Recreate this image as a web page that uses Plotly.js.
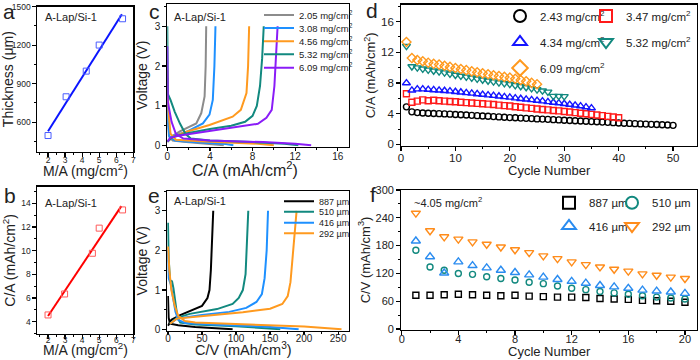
<!DOCTYPE html>
<html>
<head>
<meta charset="utf-8">
<script src="https://cdn.plot.ly/plotly-3.0.1.min.js"></script>
<style>html,body{margin:0;padding:0;background:#fff;}#chart{width:700px;height:360px;}</style>
</head>
<body>
<div id="chart"></div>
<script>
// ---------- Panel a : thickness vs areal mass ----------
const aMass = [2.0, 3.06, 4.24, 5.0, 6.37];
const aThick = [496, 798, 998, 1201, 1406];
const aFitX = [2.0, 6.33];
const aFitY = [530, 1441];

// ---------- Panel b : areal capacity vs areal mass ----------
const bMass = [2.0, 2.97, 4.6, 5.0, 6.37];
const bCap = [4.57, 6.34, 9.78, 11.9, 13.44];
const bFitX = [2.0, 6.3];
const bFitY = [4.48, 13.76];

// ---------- Panel c : voltage profiles, areal capacity ----------
const cLabels = ['2.05 mg/cm<sup>2</sup>', '3.08 mg/cm<sup>2</sup>', '4.56 mg/cm<sup>2</sup>', '5.32 mg/cm<sup>2</sup>', '6.09 mg/cm<sup>2</sup>'];
const c1DchX = [0, 0.05, 0.15, 0.5, 1.5, 3, 4.5, 5.3];
const c1DchY = [1.3, 0.6, 0.25, 0.13, 0.1, 0.07, 0.04, 0.01];
const c1ChX = [0, 0.4, 1.18, 2.72, 3.19, 3.5, 3.6, 3.65];
const c1ChY = [0.1, 0.23, 0.36, 0.56, 0.82, 1.24, 2.0, 3.0];
const c2DchX = [0, 0.05, 0.2, 0.7, 2, 4, 5.5, 6.2];
const c2DchY = [1.7, 0.6, 0.22, 0.13, 0.1, 0.07, 0.04, 0.01];
const c2ChX = [0, 0.5, 1.8, 3.34, 3.96, 4.27, 4.42, 4.52];
const c2ChY = [0.1, 0.24, 0.35, 0.56, 0.78, 1.15, 2.0, 3.0];
const c3DchX = [0, 0.1, 0.3, 0.8, 3, 6, 8.5, 10];
const c3DchY = [1.9, 0.9, 0.3, 0.15, 0.11, 0.08, 0.05, 0.01];
const c3ChX = [0, 0.56, 1.8, 3.96, 6.13, 6.9, 7.43, 7.58, 7.68];
const c3ChY = [0.1, 0.23, 0.35, 0.52, 0.73, 0.9, 1.32, 2.0, 3.0];
const c4DchX = [0, 0.05, 0.3, 0.7, 1.2, 1.7, 2.2, 4, 8, 11, 12.3];
const c4DchY = [3.0, 1.3, 1.15, 0.85, 0.55, 0.3, 0.18, 0.13, 0.09, 0.05, 0.01];
const c4ChX = [0, 0.5, 2, 4, 6, 7.3, 8.0, 8.4, 8.7, 8.9, 9.05];
const c4ChY = [0.1, 0.22, 0.32, 0.42, 0.5, 0.6, 0.75, 1.0, 1.5, 2.2, 3.0];
const c5DchX = [0, 0.05, 0.4, 0.8, 1.5, 4, 9, 12, 13.5];
const c5DchY = [2.5, 1.1, 0.6, 0.3, 0.18, 0.13, 0.09, 0.05, 0.01];
const c5ChX = [0, 0.3, 1, 3, 5, 7, 8.5, 9.3, 9.8, 10.05, 10.2, 10.35];
const c5ChY = [0.1, 0.2, 0.25, 0.33, 0.4, 0.48, 0.55, 0.7, 0.9, 1.5, 2.2, 3.0];

// ---------- Panel e : voltage profiles, volumetric capacity ----------
const eLabels = ['887 µm', '510 µm', '416 µm', '292 µm'];
const e1DchX = [0, 1, 3, 15, 40, 70, 95];
const e1DchY = [0.85, 0.3, 0.15, 0.11, 0.07, 0.04, 0.01];
const e1ChX = [0, 5, 18, 37, 50, 58, 61, 63, 64.5, 66.5];
const e1ChY = [0.1, 0.25, 0.37, 0.5, 0.6, 0.8, 1.0, 1.5, 2.2, 3.0];
const e2DchX = [0, 1, 3, 6, 8, 11, 14, 18, 40, 100, 140, 165];
const e2DchY = [2.7, 1.8, 1.25, 1.22, 1.05, 0.6, 0.3, 0.18, 0.13, 0.09, 0.05, 0.01];
const e2ChX = [3, 13, 32, 72, 95, 104, 110, 114, 116, 118];
const e2ChY = [0.15, 0.3, 0.4, 0.52, 0.65, 0.8, 1.0, 1.4, 2.2, 3.0];
const e3DchX = [0, 1, 4, 7, 11, 15, 25, 80, 150, 192];
const e3DchY = [2.0, 1.3, 1.15, 0.8, 0.45, 0.25, 0.17, 0.12, 0.07, 0.01];
const e3ChX = [3, 13, 50, 90, 115, 130, 138, 142, 145, 147];
const e3ChY = [0.15, 0.28, 0.37, 0.45, 0.55, 0.7, 0.9, 1.3, 2.0, 3.0];
const e4DchX = [0, 2, 5, 10, 15, 25, 40, 120, 200, 255];
const e4DchY = [2.1, 1.5, 1.0, 0.6, 0.35, 0.22, 0.18, 0.13, 0.08, 0.01];
const e4ChX = [3, 13, 60, 110, 150, 168, 176, 180, 184, 189];
const e4ChY = [0.15, 0.28, 0.36, 0.44, 0.53, 0.65, 0.85, 1.2, 2.0, 3.0];

// ---------- Panel d : areal capacity vs cycle ----------
const dLabels = ['2.43 mg/cm<sup>2</sup>', '3.47 mg/cm<sup>2</sup>', '4.34 mg/cm<sup>2</sup>', '5.32 mg/cm<sup>2</sup>', '6.09 mg/cm<sup>2</sup>'];
const d243 = [4.9, 4.25, 4.15, 4.1, 4.07, 4.04, 4.01, 3.98, 3.95, 3.91, 3.87, 3.83, 3.79, 3.75, 3.71, 3.67, 3.63, 3.59, 3.55, 3.5,
              3.47, 3.43, 3.4, 3.37, 3.33, 3.3, 3.27, 3.23, 3.2, 3.15, 3.12, 3.09, 3.05, 3.02, 2.98, 2.95, 2.91, 2.88, 2.84, 2.8,
              2.77, 2.74, 2.71, 2.68, 2.65, 2.62, 2.59, 2.56, 2.53, 2.49];
const d347 = [6.6, 5.5, 5.65, 5.8, 5.7, 5.75, 5.7, 5.65, 5.6, 5.57, 5.5, 5.45, 5.4, 5.35, 5.3, 5.25, 5.2, 5.12, 5.06, 5.0,
              4.92, 4.84, 4.77, 4.7, 4.62, 4.56, 4.5, 4.43, 4.37, 4.3, 4.22, 4.15, 4.07, 4.0, 3.92, 3.84, 3.75, 3.66, 3.57, 3.48];
const d434 = [8.0, 7.05, 7.2, 7.2, 7.15, 7.1, 7.05, 7.0, 6.94, 6.87, 6.8, 6.72, 6.65, 6.58, 6.5, 6.43, 6.36, 6.28, 6.2, 6.13,
              6.04, 5.96, 5.88, 5.8, 5.72, 5.64, 5.55, 5.47, 5.39, 5.3, 5.2, 5.1, 5.0, 4.87, 4.74];
const d532 = [12.8, 10.15, 10.0, 9.85, 9.72, 9.6, 9.48, 9.36, 9.2, 9.04, 8.92, 8.8, 8.68, 8.55, 8.42, 8.3, 8.18, 8.05, 7.95, 7.85,
              7.7, 7.58, 7.45, 7.3, 7.15, 7.0, 6.85, 6.3, 6.3, 6.26];
const d609 = [13.35, 11.25, 11.0, 10.83, 10.65, 10.5, 10.4, 10.25, 10.1, 9.95, 9.82, 9.68, 9.52, 9.4, 9.26, 9.15, 9.02, 8.9, 8.8, 8.7,
              8.55, 8.4, 8.22, 8.02, 7.85];

// ---------- Panel f : volumetric capacity vs cycle ----------
const fLabels = ['887 µm', '510 µm', '416 µm', '292 µm'];
const f887 = [73, 73, 74, 75, 74, 73, 72, 73, 71, 70, 69, 69, 68, 66, 65, 64, 62, 61, 60, 58];
const f510 = [170, 134, 127, 120, 118, 113, 109, 106, 101, 98, 93, 88, 85, 81, 78, 75, 72, 69, 67, 65];
const f416 = [190, 156, 121, 145, 137, 132, 127, 122, 117, 112, 107, 103, 99, 94, 91, 88, 84, 82, 80, 77];
const f292 = [250, 212, 199, 194, 188, 183, 177, 171, 165, 158, 152, 145, 139, 134, 129, 125, 119, 116, 112, 109];

// ---------- helpers ----------
const FONT = 'Liberation Sans, Arial, Helvetica, sans-serif';
const W = 700, H = 360;
const px = v => v / W;
const py = v => 1 - v / H;
const cycles = n => Array.from({length: n}, (_, i) => i + 1);
const join = (a, b) => a.concat([null], b);

function axis(dom, range, dtick, minorDtick, tickSize, title, titleSize, standoff, anchor, lblOff) {
  return {
    domain: dom, range: range, dtick: dtick, tick0: 0, anchor: anchor,
    showline: true, mirror: true, linecolor: '#000', linewidth: 1.4,
    ticks: 'outside', ticklen: 3.5, tickwidth: 1.2, tickcolor: '#000', ticklabelstandoff: lblOff || 0,
    minor: {ticks: 'outside', ticklen: 2, tickwidth: 1, tickcolor: '#000', dtick: minorDtick, tick0: 0},
    showgrid: false, zeroline: false, fixedrange: true, automargin: false,
    tickfont: {family: FONT, size: tickSize, color: '#222'},
    title: {text: title, font: {family: FONT, size: titleSize, color: '#222'}, standoff: standoff}
  };
}

const cColors = ['#8c8c8c', '#1e90ff', '#ff9a1f', '#12897f', '#8a1cf7'];
const eColors = ['#000000', '#12897f', '#1e90ff', '#ff9a1f'];
const dColors = ['#000000', '#ff1a1a', '#1515ff', '#12897f', '#ff9a1f'];
const dSymbols = ['circle-open', 'square-open', 'triangle-up-open', 'triangle-down-open', 'diamond-open'];
const fColors = ['#000000', '#12897f', '#2a8cf0', '#ff8c1a'];
const fSymbols = ['square-open', 'circle-open', 'triangle-up-open', 'triangle-down-open'];

const traces = [];
// a
traces.push({x: aFitX, y: aFitY, xaxis: 'x', yaxis: 'y', mode: 'lines', line: {color: '#0a14ff', width: 2}, showlegend: false});
traces.push({x: aMass, y: aThick, xaxis: 'x', yaxis: 'y', mode: 'markers', marker: {symbol: 'square-open', size: 6, color: '#4a5cff', line: {width: 1}}, showlegend: false});
// b
traces.push({x: bFitX, y: bFitY, xaxis: 'x2', yaxis: 'y2', mode: 'lines', line: {color: '#ff0000', width: 2}, showlegend: false});
traces.push({x: bMass, y: bCap, xaxis: 'x2', yaxis: 'y2', mode: 'markers', marker: {symbol: 'square-open', size: 6, color: '#ff5a5a', line: {width: 1}}, showlegend: false});
// c
const cData = [[c1DchX, c1DchY, c1ChX, c1ChY], [c2DchX, c2DchY, c2ChX, c2ChY], [c3DchX, c3DchY, c3ChX, c3ChY], [c4DchX, c4DchY, c4ChX, c4ChY], [c5DchX, c5DchY, c5ChX, c5ChY]];
cData.forEach((d, i) => {
  traces.push({x: join(d[0], d[2]), y: join(d[1], d[3]), xaxis: 'x3', yaxis: 'y3', mode: 'lines', name: cLabels[i],
    line: {color: cColors[i], width: 2}, legend: 'legend' + (i === 0 ? '' : (i + 1))});
});
// e
const eData = [[e1DchX, e1DchY, e1ChX, e1ChY], [e2DchX, e2DchY, e2ChX, e2ChY], [e3DchX, e3DchY, e3ChX, e3ChY], [e4DchX, e4DchY, e4ChX, e4ChY]];
eData.forEach((d, i) => {
  traces.push({x: join(d[0], d[2]), y: join(d[1], d[3]), xaxis: 'x4', yaxis: 'y4', mode: 'lines', name: eLabels[i],
    line: {color: eColors[i], width: 2}, legend: 'legend' + (6 + i)});
});
// d
[d243, d347, d434, d532, d609].forEach((s, i) => {
  traces.push({x: cycles(s.length), y: s, xaxis: 'x5', yaxis: 'y5', mode: 'markers', name: dLabels[i],
    marker: {symbol: dSymbols[i], size: i >= 2 ? 7 : 6, color: dColors[i], line: {width: 1.4}}, legend: 'legend' + (10 + i)});
});
// f
[f887, f510, f416, f292].forEach((s, i) => {
  traces.push({x: cycles(s.length), y: s, xaxis: 'x6', yaxis: 'y6', mode: 'markers', name: fLabels[i],
    marker: {symbol: fSymbols[i], size: i >= 2 ? 8 : 6, color: fColors[i], line: {width: 1.4}}, legend: 'legend' + (15 + i)});
});

function leg(textStartPx, yPx, size, constant) {
  return {x: px(textStartPx - 40), y: py(yPx), xanchor: 'left', yanchor: 'middle', bgcolor: 'rgba(0,0,0,0)',
    borderwidth: 0, font: {family: FONT, size: size, color: '#222'}, itemsizing: constant ? 'constant' : 'trace', itemclick: false};
}
function note(text, xPx, yPx, size, anchor, yanchor) {
  return {text: text, x: px(xPx), y: py(yPx), xref: 'paper', yref: 'paper', xanchor: anchor || 'center', yanchor: yanchor || 'middle',
    showarrow: false, font: {family: FONT, size: size, color: '#222'}};
}

const layout = {
  width: W, height: H, margin: {l: 0, r: 0, t: 0, b: 0}, paper_bgcolor: '#fff', plot_bgcolor: '#fff',
  font: {family: FONT, color: '#222'}, showlegend: true,
  xaxis:  axis([px(37.3), px(133.3)], [1.37, 7], 1, 0.5, 8.5, '', 14, 0, 'y', -4),
  yaxis:  axis([py(151.7), py(6.7)], [370, 1500], 300, 150, 8.5, 'Thickness (μm)', 14, 2, 'x'),
  xaxis2: axis([px(37.3), px(133.3)], [1.37, 7], 1, 0.5, 8.5, '', 14, 0, 'y2', -6),
  yaxis2: axis([py(334), py(186.7)], [2.96, 15.4], 2, 1, 8.5, 'C/A (mAh/cm<sup>2</sup>)', 14, 2, 'x2'),
  xaxis3: axis([px(167.3), px(349)], [0, 17.05], 4, 2, 10, '', 14, 0, 'y3', -3),
  yaxis3: axis([py(146.5), py(4)], [-0.02, 3.56], 1, 0.5, 10, 'Voltage (V)', 14, 4, 'x3'),
  xaxis4: axis([px(167.3), px(349)], [-1, 266], 50, 25, 10, '', 14, 0, 'y4', -5),
  yaxis4: axis([py(330.5), py(191)], [-0.02, 3.5], 1, 0.5, 10, 'Voltage (V)', 14, 4, 'x4'),
  xaxis5: axis([px(401), px(697)], [0, 54.4], 10, 5, 11.5, '', 13, 0, 'y5', -3),
  yaxis5: axis([py(146), py(4.7)], [-0.2, 18.2], 4, 2, 11.5, 'C/A (mAh/cm<sup>2</sup>)', 13, 2, 'x5'),
  xaxis6: axis([px(401), px(697)], [-0.05, 20.85], 4, 2, 11, '', 13, 0, 'y6', -5),
  yaxis6: axis([py(330), py(190)], [-2, 300], 60, 30, 11, 'C/V (mAh/cm<sup>3</sup>)', 13, 2, 'x6'),
  annotations: [
    // panel letters
    note('a', 9, 12, 21), note('b', 10, 195, 21), note('c', 154, 12, 21),
    note('e', 154, 195, 21), note('d', 372, 10, 21), note('f', 373, 194, 21),
    // x-axis titles
    note('M/A (mg/cm<sup>2</sup>)', 85, 170, 14),
    note('M/A (mg/cm<sup>2</sup>)', 85, 360, 14, 'center', 'bottom'),
    note('C/A (mAh/cm<sup>2</sup>)', 244.5, 169, 16),
    note('C/V (mAh/cm<sup>3</sup>)', 243.5, 360, 14.5, 'center', 'bottom'),
    note('Cycle Number', 549, 170, 13),
    note('Cycle Number', 549.5, 351, 13),
    // inner labels
    note('A-Lap/Si-1', 43, 17, 11, 'left'),
    note('A-Lap/Si-1', 43, 203, 11, 'left'),
    note('A-Lap/Si-1', 172, 17, 11, 'left'),
    note('A-Lap/Si-1', 172, 201, 11, 'left'),
    note('~4.05 mg/cm<sup>2</sup>', 412, 202, 11, 'left')
  ]
};
// legends for c (legend..legend5)
const cRows = [15, 28, 41.3, 54.3, 67.7];
cRows.forEach((y, i) => { layout['legend' + (i === 0 ? '' : (i + 1))] = leg(299, y, 9.5, false); });
// legends for e (legend6..legend9)
const eRows = [201.3, 211.7, 222.7, 233.3];
eRows.forEach((y, i) => { layout['legend' + (6 + i)] = leg(319, y, 9, false); });
// legends for d (legend10..legend14)
const dPos = [[540, 16], [626, 16], [540, 42], [626, 42], [540, 68]];
dPos.forEach((p, i) => { layout['legend' + (10 + i)] = leg(p[0], p[1], 11.5, true); });
// legends for f (legend15..legend18)
const fPos = [[589, 202.7], [652, 202.7], [589, 226], [652, 226]];
fPos.forEach((p, i) => { layout['legend' + (15 + i)] = leg(p[0], p[1], 11.5, true); });

Plotly.newPlot('chart', traces, layout, {staticPlot: true, displayModeBar: false});
</script>
</body>
</html>
